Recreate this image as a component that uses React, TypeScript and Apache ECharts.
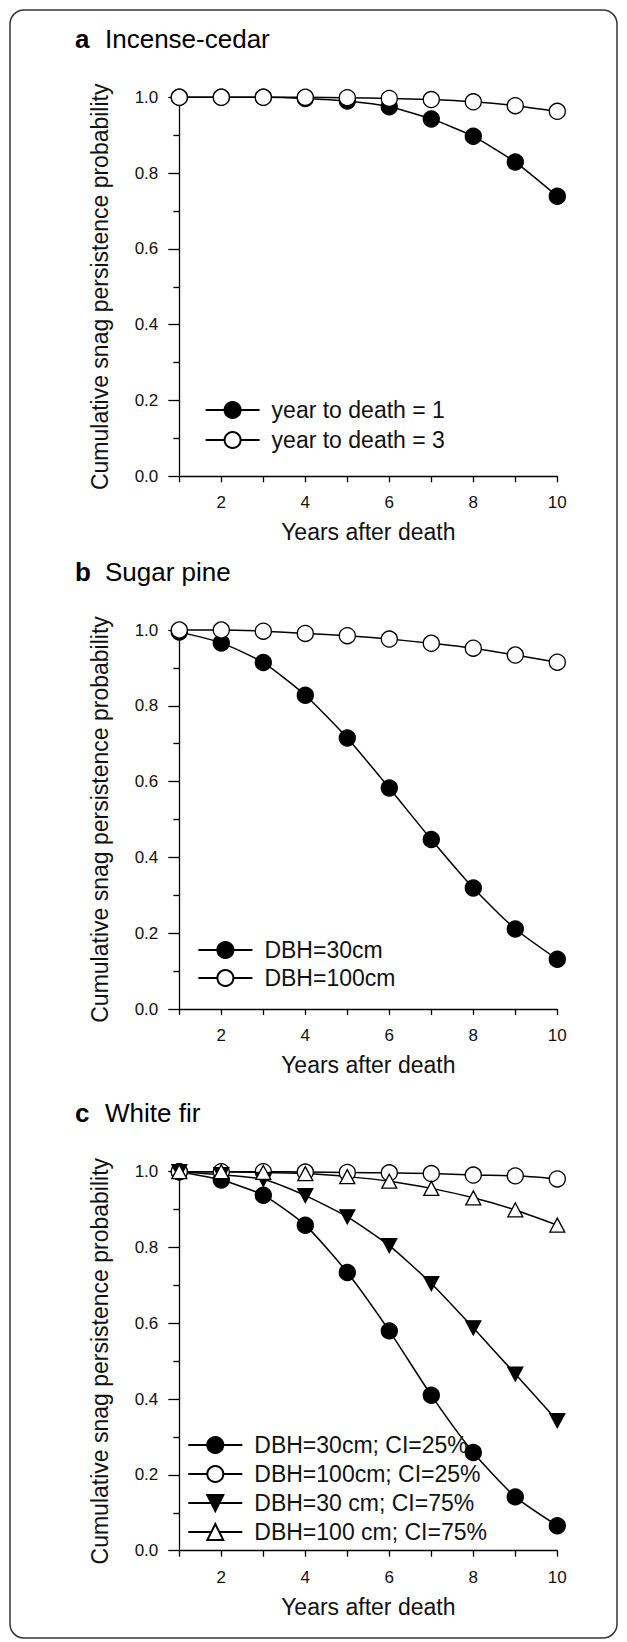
import React, { useEffect, useRef } from "react";
import * as echarts from "echarts";

const years = [1, 2, 3, 4, 5, 6, 7, 8, 9, 10];
const xTickLabels = ["2", "4", "6", "8", "10"];
const yTickLabels = ["0.0", "0.2", "0.4", "0.6", "0.8", "1.0"];

const panelLetters = ["a", "b", "c"];
const panelNames = ["Incense-cedar", "Sugar pine", "White fir"];
const xTitle = "Years after death";
const yTitle = "Cumulative snag persistence probability";

const cedarNames = ["year to death = 1", "year to death = 3"];
const cedarYTD1 = [1.0, 1.0, 1.0, 0.997, 0.99, 0.975, 0.943, 0.897, 0.829, 0.739];
const cedarYTD3 = [1.0, 1.0, 1.0, 1.0, 0.999, 0.997, 0.994, 0.988, 0.978, 0.963];

const pineNames = ["DBH=30cm", "DBH=100cm"];
const pineDBH30 = [0.995, 0.966, 0.914, 0.828, 0.715, 0.583, 0.447, 0.319, 0.211, 0.131];
const pineDBH100 = [1.0, 1.0, 0.997, 0.991, 0.985, 0.976, 0.965, 0.952, 0.934, 0.915];

const firNames = [
  "DBH=30cm; CI=25%",
  "DBH=100cm; CI=25%",
  "DBH=30 cm; CI=75%",
  "DBH=100 cm; CI=75%",
];
const firDBH30CI25 = [1.0, 0.978, 0.938, 0.859, 0.734, 0.58, 0.41, 0.259, 0.142, 0.066];
const firDBH100CI25 = [1.0, 1.0, 1.0, 0.999, 0.998, 0.997, 0.995, 0.991, 0.989, 0.981];
const firDBH30CI75 = [1.0, 0.992, 0.98, 0.937, 0.881, 0.805, 0.705, 0.588, 0.466, 0.343];
const firDBH100CI75 = [1.0, 1.0, 0.998, 0.995, 0.987, 0.975, 0.956, 0.931, 0.899, 0.859];

const FONT = "'Liberation Sans', Arial, Helvetica, sans-serif";
const GX = 179.3;
const GW = 378;
const GH = 379;
const TOPS = [97.3, 630, 1171.7];

function lineSeries(
  name: string,
  vals: number[],
  gi: number,
  symbol: string,
  fill: string,
  size: number | number[],
  rotate = 0
) {
  return {
    type: "line",
    name,
    xAxisIndex: gi,
    yAxisIndex: gi,
    data: years.map((x, i) => [x, vals[i]]),
    smooth: 0.2,
    symbol,
    symbolSize: size,
    symbolRotate: rotate,
    showSymbol: true,
    clip: false,
    lineStyle: { color: "#000", width: 1.5 },
    itemStyle: { color: fill, borderColor: "#000", borderWidth: 1.3 },
  };
}

export default function App() {
  const ref = useRef<HTMLDivElement>(null);
  useEffect(() => {
    if (!ref.current) return;
    const chart = echarts.init(ref.current, undefined, { renderer: "svg" });

    const grids = TOPS.map((t) => ({ left: GX, top: t, width: GW, height: GH }));
    const xAxes = TOPS.map((_, i) => ({
      type: "value",
      gridIndex: i,
      min: 1,
      max: 10,
      interval: 1,
      axisLine: { show: true, onZero: false, lineStyle: { color: "#000", width: 1.3 } },
      axisTick: { show: true, length: 6, lineStyle: { color: "#000", width: 1.3 } },
      axisLabel: {
        margin: 18,
        fontSize: 17,
        color: "#111",
        fontFamily: FONT,
        formatter: (v: number) => (xTickLabels.includes(String(v)) ? String(v) : ""),
      },
      splitLine: { show: false },
    }));
    const yAxes = TOPS.map((_, i) => ({
      type: "value",
      gridIndex: i,
      min: 0,
      max: 1,
      interval: 0.2,
      axisLine: { show: true, onZero: false, lineStyle: { color: "#000", width: 1.3 } },
      axisTick: { show: true, length: 11, lineStyle: { color: "#000", width: 1.3 } },
      minorTick: { show: true, splitNumber: 2, length: 6, lineStyle: { color: "#000", width: 1.3 } },
      axisLabel: {
        margin: 21,
        fontSize: 17,
        color: "#111",
        fontFamily: FONT,
        formatter: (v: number) => yTickLabels[Math.round(v / 0.2)],
      },
      splitLine: { show: false },
    }));

    const series = [
      lineSeries(cedarNames[0], cedarYTD1, 0, "circle", "#000", 16),
      lineSeries(cedarNames[1], cedarYTD3, 0, "circle", "#fff", 16),
      lineSeries(pineNames[0], pineDBH30, 1, "circle", "#000", 16),
      lineSeries(pineNames[1], pineDBH100, 1, "circle", "#fff", 16),
      lineSeries(firNames[0], firDBH30CI25, 2, "circle", "#000", 16),
      lineSeries(firNames[1], firDBH100CI25, 2, "circle", "#fff", 16),
      lineSeries(firNames[2], firDBH30CI75, 2, "triangle", "#000", [15, 14], 180),
      lineSeries(firNames[3], firDBH100CI75, 2, "triangle", "#fff", [15, 14]),
    ];

    const legendBase = {
      orient: "vertical",
      padding: 0,
      itemWidth: 54,
      itemHeight: 20,
      selectedMode: false,
      textStyle: { fontSize: 23, fontFamily: FONT, color: "#111", padding: [0, 0, 0, 7] },
    };
    const legends = [
      { ...legendBase, data: cedarNames, left: 204.6, top: 398.5, itemGap: 7 },
      { ...legendBase, data: pineNames, left: 197.4, top: 938.5, itemGap: 5 },
      { ...legendBase, data: firNames, left: 187.3, top: 1433.5, itemGap: 6 },
    ];

    const graphics: any[] = [
      {
        type: "rect",
        shape: { x: 10, y: 10, width: 607, height: 1628, r: 14 },
        style: { fill: "none", stroke: "#333", lineWidth: 1.5 },
        silent: true,
      },
    ];
    TOPS.forEach((t, i) => {
      const titleY = t - 58.5;
      graphics.push({
        type: "text",
        x: 75,
        y: titleY,
        style: {
          text: panelLetters[i],
          font: `bold 26px ${FONT}`,
          fill: "#000",
          align: "left",
          verticalAlign: "middle",
        },
      });
      graphics.push({
        type: "text",
        x: 105,
        y: titleY,
        style: {
          text: panelNames[i],
          font: `26px ${FONT}`,
          fill: "#000",
          align: "left",
          verticalAlign: "middle",
        },
      });
      graphics.push({
        type: "text",
        x: GX + GW / 2,
        y: t + GH + 56,
        style: {
          text: xTitle,
          font: `23px ${FONT}`,
          fill: "#111",
          align: "center",
          verticalAlign: "middle",
        },
      });
      graphics.push({
        type: "text",
        x: 100,
        y: t + GH / 2,
        rotation: Math.PI / 2,
        style: {
          text: yTitle,
          font: `23px ${FONT}`,
          fill: "#111",
          align: "center",
          verticalAlign: "middle",
        },
      });
    });

    chart.setOption({
      animation: false,
      backgroundColor: "#fff",
      grid: grids,
      xAxis: xAxes,
      yAxis: yAxes,
      legend: legends,
      series,
      graphic: graphics,
    });
    return () => chart.dispose();
  }, []);
  return (
    <div
      ref={ref}
      style={{ position: "absolute", left: 0, top: 0, width: 627, height: 1642 }}
    />
  );
}
